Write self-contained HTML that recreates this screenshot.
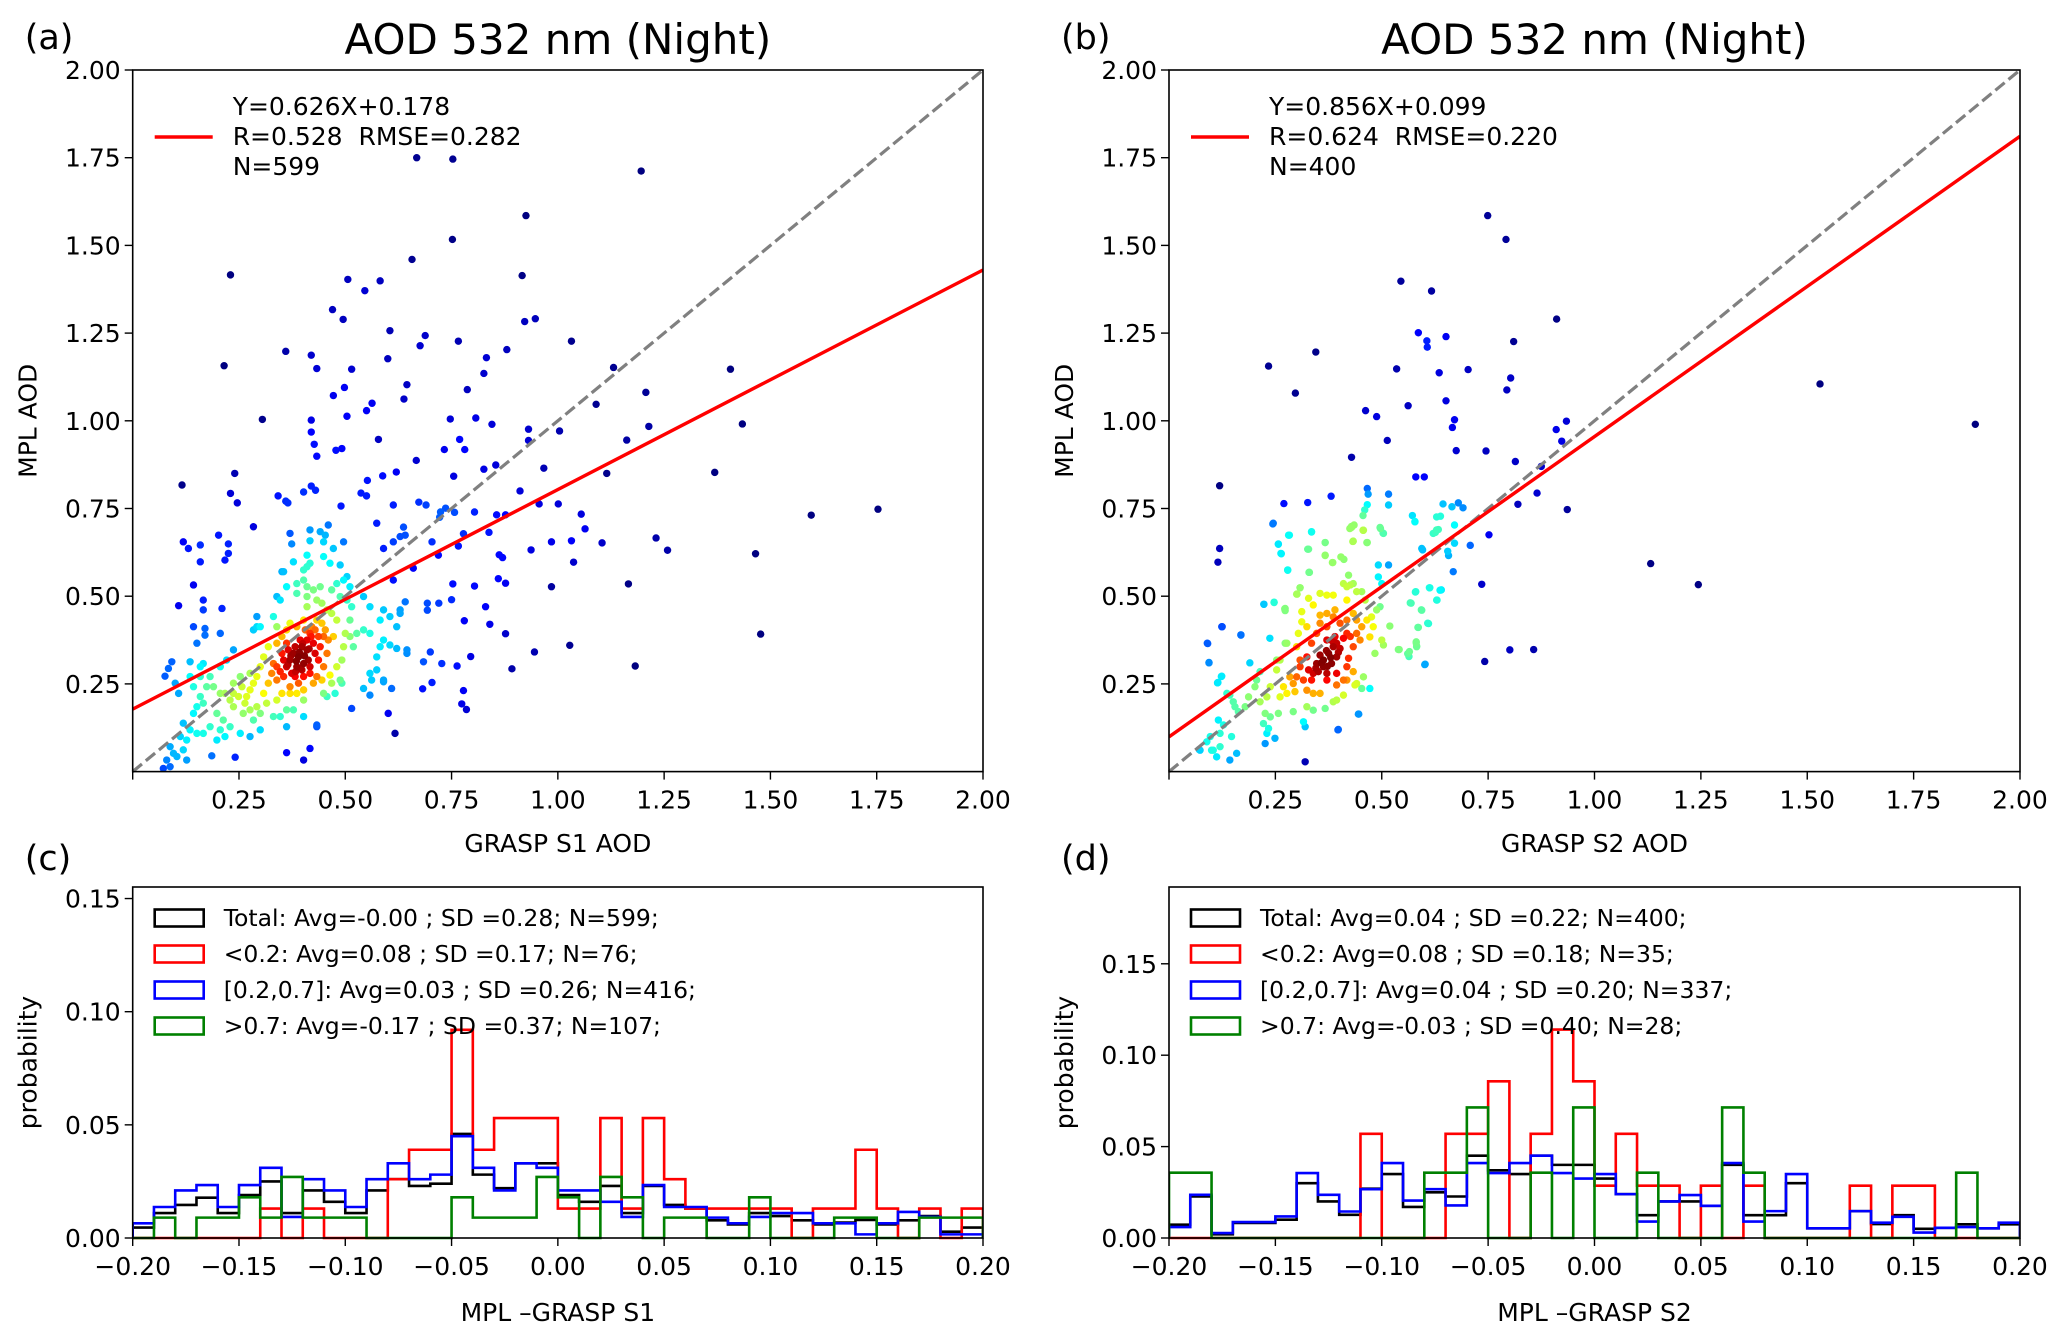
<!DOCTYPE html>
<html>
<head>
<meta charset="utf-8">
<style>
  html,body{margin:0;padding:0;background:#fff;}
  svg{display:block;font-family:"DejaVu Sans","Liberation Sans",sans-serif;}
  text{white-space:pre;}
</style>
</head>
<body>
<svg id="fig" width="2067" height="1333" viewBox="0 0 2067 1333" xmlns="http://www.w3.org/2000/svg">
  <rect x="0" y="0" width="2067" height="1333" fill="#fff"/>
</svg>
<script>
// ---------------- DATA ----------------
// Panel (a) scatter: [GRASP S1 AOD, MPL AOD]
const pointsA = [
[.378,.337],[.390,.327],[.370,.318],[.398,.356],[.410,.375],[.417,.394],[.429,.404],[.437,.385],[.425,.366],[.410,.347],[.402,.308],[.386,.299],[.374,.280],[.362,.299],[.355,.318],[.366,.347],[.382,.356],[.394,.375],[.406,.404],[.421,.413],[.433,.432],[.441,.356],[.429,.337],[.413,.318],[.398,.290],[.382,.271],[.355,.271],[.347,.285],[.339,.299],[.351,.337],[.362,.366],[.437,.318],[.449,.385],[.453,.404],[.445,.423],[.417,.299],[.402,.271],[.390,.252],[.370,.242],[.339,.261],[.327,.280],[.331,.308],[.417,.280],[.433,.271],[.449,.299],[.457,.337],[.460,.375],
[.392,.340],[.404,.330],[.385,.315],[.395,.295],[.415,.350],[.372,.330],[.420,.385],[.400,.365],[.383,.285],[.365,.305],
[.472,.385],[.480,.432],[.468,.451],[.457,.461],[.445,.480],[.433,.489],[.410,.470],[.402,.432],[.386,.413],[.370,.423],[.362,.404],[.351,.385],[.339,.366],[.319,.356],[.308,.327],[.300,.299],[.292,.271],[.284,.252],[.276,.233],[.268,.214],[.264,.195],[.276,.176],[.292,.185],[.308,.223],[.319,.252],[.315,.195],[.339,.204],[.351,.223],[.370,.223],[.386,.223],[.402,.233],[.425,.252],[.445,.261],[.464,.275],[.480,.299],[.492,.318],[.496,.356],[.500,.394],[.511,.432],[.515,.470],[.504,.489],[.488,.499],[.468,.518],[.441,.527],[.425,.518],[.410,.499],[.276,.280],[.257,.242],[.249,.214],[.237,.223],
[.511,.385],[.527,.394],[.543,.404],[.558,.394],[.519,.356],[.488,.261],[.468,.252],[.449,.223],[.457,.214],[.476,.223],[.492,.252],[.402,.204],[.378,.176],[.362,.176],[.347,.157],[.331,.157],[.300,.166],[.284,.147],[.260,.166],[.237,.185],[.229,.204],[.217,.223],[.206,.223],[.190,.242],[.174,.242],[.159,.214],[.166,.195],[.151,.185],[.143,.166],[.198,.166],[.213,.147],[.229,.128],[.206,.119],[.182,.128],[.166,.109],[.151,.109],[.135,.119],[.127,.090],[.198,.090],[.217,.100],[.253,.109],[.276,.100],[.300,.119],[.386,.536],[.402,.546],[.410,.527],[.386,.508],[.480,.536],[.496,.546],[.504,.556],[.511,.527],[.543,.499],[.558,.470],[.339,.413],[.331,.442],[.300,.413],[.284,.404],[.237,.347],[.221,.318],[.206,.299],[.182,.271],[.159,.271],[.237,.252],[.253,.271],
[.088,.071],[.096,.052],[.080,.033],[.104,.043],[.119,.062],[.127,.033],[.088,.014],[.072,.009],[.112,.100],[.119,.138],[.143,.242],[.159,.299],[.166,.308],[.135,.271],[.108,.223],[.402,.157],[.433,.128],[.362,.128],[.410,.584],[.417,.594],[.402,.575],[.464,.594],[.488,.589],[.472,.636],[.496,.655],[.449,.613],[.410,.617],[.378,.598],[.355,.570],[.362,.527],[.347,.489],[.339,.499],[.292,.442],[.292,.413],[.590,.461],[.605,.442],[.582,.432],[.629,.451],[.621,.413],[.590,.375],[.582,.356],[.574,.327],[.605,.361],[.621,.351],[.645,.347],[.558,.280],[.574,.290],[.562,.261],[.543,.237],[.590,.261],
[.417,.689],[.441,.684],[.460,.703],[.453,.674],[.370,.679],[.374,.649],[.417,.658],[.449,.655],[.590,.636],[.613,.655],[.629,.670],[.641,.674],[.574,.708],[.351,.570],[.613,.546],[.641,.484],[.629,.461],[.645,.337],[.609,.237],[.590,.256],[.558,.218],[.515,.180],[.601,.166],[.433,.133],[.417,.066],[.362,.054],[.402,.033],[.241,.041],[.186,.045],[.617,.109],
[.284,.698],[.202,.674],[.225,.649],[.119,.655],[.131,.636],[.159,.646],[.159,.598],[.217,.603],[.225,.622],[.143,.532],[.166,.489],[.166,.461],[.108,.473],[.210,.465],[.143,.413],[.170,.408],[.206,.394],[.170,.389],[.151,.366],[.092,.313],[.084,.294],[.076,.272],[.100,.252],[.135,.313],
[.668,1.75],[.753,1.746],[1.196,1.712],[.925,1.585],[.752,1.517],[.657,1.46],[.916,1.414],[.23,1.416],[.506,1.403],[.582,1.399],[.546,1.371],[.47,1.317],[.495,1.289],[.947,1.291],[.922,1.283],[.605,1.257],[.688,1.243],[.766,1.227],[1.032,1.227],[.676,1.214],[.36,1.198],[.42,1.187],[.88,1.203],[.832,1.18],[.215,1.157],[.433,1.149],[.515,1.147],[1.131,1.152],[1.406,1.147],[.826,1.135],[.6,1.177],[.787,1.089],[.498,1.095],[.645,1.103],[.472,1.072],[.638,1.062],[1.207,1.081],[1.09,1.047],[.563,1.05],[.55,1.029],[.305,1.004],[.42,1.002],[.504,1.013],[.747,1.005],[.807,1.008],[1.004,.971],[1.434,.991],[1.214,.984],[.931,.976],[.42,.968],[.845,.99],[.769,.947],[.578,.947],[1.162,.945],[.427,.933],[.931,.944],[.478,.916],[.492,.921],[.733,.918],[.781,.918],[.433,.899],[.667,.887],[.62,.854],[.967,.865],[.826,.862],[.854,.874],[1.115,.85],[1.369,.853],[.116,.817],[.24,.85],[.588,.843],[.755,.842],[.911,.8],[.552,.83],[.42,.814],[.43,.802],[.342,.786],[.402,.797],[.23,.793],[.246,.766],[.537,.794],[.55,.786],[.36,.771],[.365,.766],[.613,.76],[.49,.757],[.956,.763],[1.001,.763],[.673,.768],[.69,.76],[.736,.751],[.757,.739],[.804,.74],[.856,.732],[.877,.732],[1.055,.734],[1.753,.748],[1.596,.731],[.724,.74],[.722,.725],[.637,.697],[1.064,.692],[.838,.682],[.778,.678],[.704,.655],[1.104,.652],[1.231,.666],[1.258,.631],[.937,.632],[1.032,.658],[.985,.655],[1.037,.597],[1.465,.621],[.766,.643],[.719,.617],[.862,.618],[.66,.58],[.753,.535],[.804,.529],[.877,.537],[1.166,.535],[.985,.527],[.693,.48],[.693,.46],[.72,.48],[.75,.49],[.78,.43],[.877,.393],[1.477,.392],[1.028,.36],[.945,.341],[.7,.341],[.727,.308],[.795,.328],[.763,.301],[.684,.313],[1.182,.301],[.892,.293],[.704,.254],[.682,.236],[.778,.231],[.774,.193],[.785,.177],[.83,.47],[.84,.42],[.86,.55],[.87,.61]
];
// Panel (b) scatter: [GRASP S2 AOD, MPL AOD]
const pointsB = [
[.363,.318],[.375,.337],[.386,.356],[.394,.366],[.402,.351],[.382,.308],[.363,.299],[.347,.308],[.351,.285],[.339,.280],[.371,.280],[.394,.327],[.410,.380],[.418,.394],[.390,.385],[.328,.290],[.355,.332],
[.370,.345],[.380,.325],[.358,.310],[.385,.370],[.398,.340],[.345,.295],[.372,.300],
[.308,.299],[.300,.270],[.292,.251],[.316,.261],[.335,.261],[.324,.232],[.296,.228],[.277,.223],[.261,.213],[.269,.242],[.339,.223],[.371,.261],[.394,.280],[.418,.299],[.422,.323],[.433,.356],[.426,.385],[.441,.394],[.453,.413],[.449,.375],[.441,.432],[.418,.432],[.402,.423],[.386,.441],[.371,.413],[.355,.423],[.347,.394],[.335,.366],[.324,.327],[.371,.375],[.433,.451],[.465,.432],[.394,.247],[.410,.261],[.284,.270],[.308,.318],
[.472,.384],[.480,.413],[.476,.441],[.488,.461],[.496,.470],[.461,.489],[.441,.513],[.426,.532],[.410,.536],[.418,.489],[.390,.461],[.371,.451],[.355,.446],[.339,.475],[.324,.413],[.304,.394],[.300,.356],[.277,.366],[.261,.318],[.253,.290],[.238,.242],[.230,.213],[.214,.199],[.226,.166],[.238,.156],[.257,.166],[.222,.137],[.234,.123],[.324,.185],[.339,.175],[.292,.171],[.355,.223],[.394,.204],[.418,.261],[.433,.285],[.437,.247],[.453,.237],[.484,.337],[.500,.375],[.504,.361],[.355,.508],[.371,.503],[.386,.503],[.418,.527],[.433,.536],[.453,.513],
[.422,.560],[.492,.555],[.500,.536],[.492,.589],[.516,.589],[.519,.415],[.328,.494],[.312,.456],[.312,.427],[.273,.366],[.253,.318],[.214,.285],[.206,.261],[.187,.213],[.202,.242],[.179,.185],[.230,.109],[.226,.080],[.249,.095],[.316,.142],[.320,.128],[.367,.180],[.386,.199],[.410,.218],[.441,.251],[.457,.270],[.163,.171],[.151,.199],[.143,.218],
[.097,.100],[.089,.085],[.104,.061],[.120,.071],[.112,.042],[.100,.061],[.143,.033],[.159,.052],[.147,.100],[.120,.109],[.116,.147],[.073,.061],[.128,.133],[.237,.380],[.190,.310],[.136,.223],[.155,.185],[.071,.063],
[.245,.708],[.281,.674],[.257,.649],[.263,.622],[.335,.684],[.328,.634],[.367,.653],[.367,.617],[.385,.596],[.404,.612],[.411,.605],[.429,.696],[.435,.703],[.457,.688],[.433,.657],[.465,.653],[.496,.696],[.504,.679],[.578,.712],[.594,.636],[.621,.679],[.629,.689],[.329,.568],[.279,.575],[.308,.524],[.300,.506],[.247,.482],[.223,.477],[.273,.465],[.273,.459],[.124,.413],[.169,.389],[.091,.365],[.094,.311],[.124,.272],[.114,.253],[.445,.164],[.398,.120],[.320,.028],[.472,.237],[.539,.348],[.565,.342],[.582,.356],[.581,.370],[.586,.411],[.610,.422],[.602,.306],[.594,.460],[.567,.481],[.580,.513],[.613,.524],[.637,.517],[.629,.489],
[.749,1.585],[.792,1.517],[.545,1.398],[.617,1.370],[.911,1.290],[.586,1.251],[.606,1.228],[.607,1.210],[.651,1.240],[.810,1.226],[.345,1.196],[.234,1.156],[.535,1.148],[.635,1.137],[.703,1.146],[.803,1.122],[.794,1.088],[.297,1.079],[.562,1.043],[.651,1.057],[.462,1.029],[.488,1.012],[.671,1.003],[.666,.981],[.934,.999],[.910,.975],[.923,.942],[.513,.944],[.675,.915],[.745,.914],[.429,.896],[.814,.884],[.875,.870],[.580,.840],[.600,.840],[.119,.815],[.466,.807],[.468,.791],[.516,.791],[.381,.785],[.270,.764],[.326,.767],[.516,.760],[.466,.761],[.644,.763],[.665,.755],[.680,.766],[.691,.752],[.820,.762],[.865,.794],[.936,.747],[.460,.746],[.456,.730],[.572,.730],[.578,.713],[.629,.726],[.638,.728],[.244,.706],[.429,.699],[.425,.693],[.335,.683],[.283,.674],[.456,.688],[.497,.693],[.503,.680],[.633,.690],[.626,.682],[.671,.703],[.752,.675],[.257,.648],[.432,.656],[.466,.653],[.367,.653],[.119,.636],[.264,.621],[.326,.634],[.596,.632],[.655,.628],[.671,.651],[.708,.645],[.115,.597],[.367,.616],[.384,.596],[.657,.616],[.668,.570],[.279,.574],[.330,.568],[1.132,.593],[1.244,.533],[.735,.534],[.612,.524],[.640,.518],[.579,.512],[.630,.489],[.569,.480],[.593,.461],[.608,.423],[.585,.411],[.581,.367],[.582,.358],[.541,.348],[.561,.336],[.564,.328],[.601,.305],[.742,.314],[.801,.347],[.857,.348],[.223,.477],[.247,.483],[.272,.464],[.125,.413],[.169,.390],[.090,.366],[.094,.310],[.123,.271],[.115,.254],[.446,.164],[.397,.119],[.308,.524],[.301,.506],[1.53,1.105],[1.895,.99]
];
// Regression fits (slope, intercept) for panels a and b
const fitSlope = [0.626, 0.856];
const fitIntercept = [0.178, 0.099];
const scatterTicks = [0.25,0.5,0.75,1.0,1.25,1.5,1.75,2.0];
const scatterTickLabels = ["0.25","0.50","0.75","1.00","1.25","1.50","1.75","2.00"];

// Histogram data (40 bins of width 0.01 from -0.20)
const binStart = -0.2;
const binWidth = 0.01;
const histC_total = [.0046,.011,.0146,.0178,.011,.019,.025,.011,.021,.016,.011,.021,.026,.023,.024,.046,.028,.022,.033,.033,.019,.016,.023,.011,.023,.0146,.013,.0078,.006,.011,.0097,.0078,.006,.0068,.008,.006,.0078,.0097,.0028,.0046];
const histC_low = [0,0,0,0,0,0,.013,0,.013,0,0,0,.026,.039,.039,.092,.039,.053,.053,.053,.013,.013,.053,.013,.053,.026,.013,.013,.013,.013,.013,0,.013,.013,.039,.013,0,.013,0,.013];
const histC_mid = [.0065,.0137,.021,.0234,.0137,.0234,.031,.0093,.026,.021,.0137,.026,.033,.026,.028,.045,.031,.021,.033,.031,.021,.021,.016,.0093,.0234,.0137,.0137,.009,.0065,.0093,.011,.011,.0065,.0065,.0016,.0065,.0115,.0093,.0016,.0016];
const histC_high = [0,.009,0,.009,.009,.018,.009,.027,.009,.009,.009,0,0,0,0,.018,.009,.009,.009,.027,.018,0,.027,.018,0,.009,.009,0,0,.018,0,0,0,.009,.009,0,0,.009,.009,.009];
const histD_total = [.0073,.0227,.002,.0082,.0082,.010,.030,.020,.0127,.027,.035,.017,.025,.0227,.045,.037,.035,.045,.040,.040,.0325,.024,.0125,.020,.020,.0176,.040,.0125,.0125,.030,.0053,.0053,.0147,.0076,.0125,.005,.0056,.0075,.0053,.0075];
const histD_low = [0,0,0,0,0,0,0,0,0,.057,0,0,0,.057,.057,.0857,0,.057,.114,.0857,.0286,.057,.0286,.0286,0,.0286,0,.0286,0,0,0,0,.0286,0,.0286,.0286,0,0,0,0];
const histD_mid = [.006,.0236,.0027,.0087,.0087,.0118,.0355,.0236,.0145,.0267,.041,.0205,.0267,.0178,.041,.0355,.041,.045,.0355,.0325,.035,.024,.009,.020,.0235,.0176,.041,.009,.0147,.035,.0053,.0053,.0147,.0084,.0116,.003,.0056,.006,.0053,.0084];
const histD_high = [.0357,.0357,0,0,0,0,0,0,0,0,0,0,.0357,.0357,.0714,0,0,.0357,0,.0714,0,0,.0357,0,0,0,.0714,.0357,0,0,0,0,0,0,0,0,0,.0357,0,0];
const histXTicks = [-0.2,-0.15,-0.1,-0.05,0,0.05,0.1,0.15,0.2];
const histXTickLabels = ["\u22120.20","\u22120.15","\u22120.10","\u22120.05","0.00","0.05","0.10","0.15","0.20"];
const histYTicks = [0,0.05,0.10,0.15];
const histYTickLabels = ["0.00","0.05","0.10","0.15"];
const legendC = ["Total: Avg=-0.00 ; SD =0.28; N=599;","<0.2: Avg=0.08 ; SD =0.17; N=76;","[0.2,0.7]: Avg=0.03 ; SD =0.26; N=416;",">0.7: Avg=-0.17 ; SD =0.37; N=107;"];
const legendD = ["Total: Avg=0.04 ; SD =0.22; N=400;","<0.2: Avg=0.08 ; SD =0.18; N=35;","[0.2,0.7]: Avg=0.04 ; SD =0.20; N=337;",">0.7: Avg=-0.03 ; SD =0.40; N=28;"];
const histColors = ["#000000","#ff0000","#0000ff","#008000"];

// ---------------- DRAWING ----------------
const NS = "http://www.w3.org/2000/svg";
const svg = document.getElementById("fig");
function mk(tag, attrs, parent){
  const e = document.createElementNS(NS, tag);
  for (const k in attrs) e.setAttribute(k, attrs[k]);
  (parent||svg).appendChild(e);
  return e;
}
function txt(s, x, y, size, anchor, parent, extra){
  const t = mk("text", Object.assign({x:x, y:y, "font-size":size, "text-anchor":anchor||"start", fill:"#000"}, extra||{}), parent);
  t.textContent = s;
  return t;
}
function jet(v){
  const c = t => Math.max(0, Math.min(1, t));
  const r = c(1.5 - Math.abs(4*v - 3)), g = c(1.5 - Math.abs(4*v - 2)), b = c(1.5 - Math.abs(4*v - 1));
  return "rgb(" + Math.round(r*255) + "," + Math.round(g*255) + "," + Math.round(b*255) + ")";
}

function scatterPanel(cfg){
  const L=cfg.left, R=cfg.right, T=70, B=771.6;
  const sx = v => L + (v/2)*(R-L);
  const sy = v => B - (v/2)*(B-T);
  const g = mk("g", {});
  
  
  const clipId = cfg.name + "-clip";
  const cp = mk("clipPath", {id: clipId}, g);
  mk("rect", {x:L, y:T, width:R-L, height:B-T}, cp);
  const pts = cfg.points;
  const dens = pts.map(p => {
    let s = 0;
    for (const q of pts){
      const dx=(p[0]-q[0])/0.07, dy=(p[1]-q[1])/0.07;
      s += Math.exp(-(dx*dx+dy*dy));
    }
    return s;
  });
  const maxD = Math.max(...dens), minD = Math.min(...dens);
  const order = pts.map((p,i)=>i).sort((a,b)=>dens[a]-dens[b]);
  const pg = mk("g", {"clip-path":"url(#"+clipId+")"}, g);
  
  
  for (const i of order){
    const v = Math.pow((dens[i]-minD)/(maxD-minD), 0.8);
    const c = mk("circle", {cx:sx(pts[i][0]), cy:sy(pts[i][1]), r:3.7, fill:jet(v)}, pg);
    
    
  }
  const one = mk("line", {x1:sx(0), y1:sy(0), x2:sx(2), y2:sy(2), stroke:"#808080", "stroke-width":3.2, "stroke-dasharray":"12,5"}, g);
  
  
  const fl = mk("line", {x1:sx(0), y1:sy(cfg.b), x2:sx(2), y2:sy(cfg.a*2+cfg.b), stroke:"#ff0000", "stroke-width":3.4, "clip-path":"url(#"+clipId+")"}, g);
  
  
  const fr = mk("rect", {x:L, y:T, width:R-L, height:B-T, fill:"none", stroke:"#000", "stroke-width":1.6}, g);
  
  
  scatterTicks.forEach((t,i) => {
    const x = sx(t);
    mk("line", {x1:x, y1:B, x2:x, y2:B+8, stroke:"#000", "stroke-width":1.4}, g);
    const xl = txt(scatterTickLabels[i], x, B+37, 25, "middle", g);
    
    
    const y = sy(t);
    mk("line", {x1:L-8, y1:y, x2:L, y2:y, stroke:"#000", "stroke-width":1.4}, g);
    const yl = txt(scatterTickLabels[i], L-12, y+9, 25, "end", g);
    
    
  });
  mk("line", {x1:L, y1:B, x2:L, y2:B+8, stroke:"#000", "stroke-width":1.4}, g);
  const ttl = txt("AOD 532 nm (Night)", (L+R)/2, 54, 42, "middle", g);
  
  
  const pl = txt(cfg.label, L-108, 49, 35, "start", g);
  
  
  const xt = txt(cfg.xlabel, (L+R)/2, 852, 25, "middle", g);
  
  
  const yt = txt("MPL AOD", 0, 0, 25, "middle", g, {transform:"translate("+(L-96)+","+((T+B)/2)+") rotate(-90)"});
  
  
  const lg = mk("g", {}, g);
  
  
  mk("line", {x1:L+22, y1:137, x2:L+80, y2:137, stroke:"#ff0000", "stroke-width":3.4}, lg);
  cfg.legend.forEach((s,i) => {
    const t = txt(s, L+100, 115 + i*30, 25, "start", lg);
    
    
  });
}

function histPanel(cfg){
  const L=cfg.left, R=cfg.right, T=887, B=1238;
  const sx = v => L + (v+0.2)/0.4*(R-L);
  const sy = v => B - v/cfg.ymax*(B-T);
  const g = mk("g", {});
  
  
  const clipId = cfg.name + "-clip";
  const cp = mk("clipPath", {id: clipId}, g);
  mk("rect", {x:L, y:T, width:R-L, height:B-T+2}, cp);
  const seriesNames = ["hist-total","hist-lt-0-2","hist-0-2-to-0-7","hist-gt-0-7"];
  cfg.series.forEach((vals, si) => {
    let d = "M" + sx(binStart) + "," + sy(0);
    vals.forEach((v,i) => {
      const x0 = sx(binStart + i*binWidth), x1 = sx(binStart + (i+1)*binWidth);
      d += " L" + x0 + "," + sy(v) + " L" + x1 + "," + sy(v);
    });
    d += " L" + sx(binStart + vals.length*binWidth) + "," + sy(0);
    const p = mk("path", {d:d, fill:"none", stroke:histColors[si], "stroke-width":2.6, "clip-path":"url(#"+clipId+")"}, g);
    
    
  });
  const fr = mk("rect", {x:L, y:T, width:R-L, height:B-T, fill:"none", stroke:"#000", "stroke-width":1.6}, g);
  
  
  histXTicks.forEach((t,i) => {
    const x = sx(t);
    mk("line", {x1:x, y1:B, x2:x, y2:B+8, stroke:"#000", "stroke-width":1.4}, g);
    const xl = txt(histXTickLabels[i], x, B+37, 25, "middle", g);
    
    
  });
  histYTicks.forEach((t,i) => {
    const y = sy(t);
    mk("line", {x1:L-8, y1:y, x2:L, y2:y, stroke:"#000", "stroke-width":1.4}, g);
    const yl = txt(histYTickLabels[i], L-12, y+9, 25, "end", g);
    
    
  });
  const pl = txt(cfg.label, L-108, 870, 35, "start", g);
  
  
  const xt = txt(cfg.xlabel, (L+R)/2, 1321, 25, "middle", g);
  
  
  const yt = txt("probability", 0, 0, 25, "middle", g, {transform:"translate("+(L-96)+","+((T+B)/2)+") rotate(-90)"});
  
  
  const lg = mk("g", {}, g);
  
  
  cfg.legend.forEach((s,i) => {
    const cy = 918 + i*36;
    const r = mk("rect", {x:L+22, y:cy-8.5, width:49, height:17, fill:"none", stroke:histColors[i], "stroke-width":2.6}, lg);
    
    
    const t = txt(s, L+91, cy+8, 23.5, "start", lg);
    
    
  });
}

scatterPanel({name:"panel-a-scatter", left:132.7, right:983, points:pointsA, a:fitSlope[0], b:fitIntercept[0], label:"(a)", xlabel:"GRASP S1 AOD",
  legend:["Y=0.626X+0.178","R=0.528  RMSE=0.282","N=599"]});
scatterPanel({name:"panel-b-scatter", left:1169, right:2020, points:pointsB, a:fitSlope[1], b:fitIntercept[1], label:"(b)", xlabel:"GRASP S2 AOD",
  legend:["Y=0.856X+0.099","R=0.624  RMSE=0.220","N=400"]});
histPanel({name:"panel-c-histogram", left:132.7, right:983, ymax:0.1551, label:"(c)", xlabel:"MPL \u2013GRASP S1",
  series:[histC_total, histC_low, histC_mid, histC_high], legend:legendC});
histPanel({name:"panel-d-histogram", left:1169, right:2020, ymax:0.192, label:"(d)", xlabel:"MPL \u2013GRASP S2",
  series:[histD_total, histD_low, histD_mid, histD_high], legend:legendD});
</script>
</body>
</html>
